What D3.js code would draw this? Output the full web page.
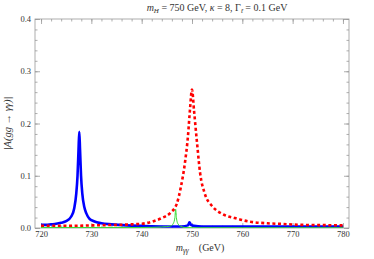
<html>
<head>
<style>
body { margin: 0; background: #fff; }
text { font-family: "Liberation Serif", "DejaVu Serif", serif; }
</style>
</head>
<body>
<script src="https://cdn.jsdelivr.net/npm/d3@7/dist/d3.min.js"></script>
<script>

// blue: solid curve
var blueMass = [720, 721, 722, 723, 724, 725, 726, 726.6, 727.0, 727.25, 727.45, 727.6, 727.75, 727.95, 728.2, 728.6, 729.0, 729.6, 730.5, 732, 734, 737, 740, 745, 748, 749.2, 749.5, 749.8, 750.4, 752, 760, 770, 780];
var blueAmp  = [0.006, 0.006, 0.007, 0.008, 0.010, 0.013, 0.022, 0.038, 0.066, 0.100, 0.150, 0.184, 0.150, 0.100, 0.066, 0.040, 0.028, 0.018, 0.013, 0.009, 0.007, 0.005, 0.004, 0.003, 0.003, 0.005, 0.011, 0.006, 0.004, 0.003, 0.003, 0.003, 0.003];

// red: dashed curve
var redMass = [720, 725, 730, 735, 738, 740, 742, 744, 745.7, 747.0, 747.8, 748.6, 749.2, 749.6, 750.0, 750.4, 751.0, 751.6, 752.5, 754.1, 756.0, 758.5, 761.6, 765, 768, 771.7, 776, 780];
var redAmp  = [0.004, 0.004, 0.005, 0.006, 0.007, 0.008, 0.012, 0.019, 0.029, 0.047, 0.079, 0.125, 0.176, 0.227, 0.265, 0.225, 0.163, 0.106, 0.067, 0.041, 0.027, 0.019, 0.012, 0.009, 0.0077, 0.006, 0.0055, 0.005];

// green: thin curve
var greenMass = [720, 730, 740, 744, 745.8, 746.3, 746.6, 746.75, 746.9, 747.2, 747.8, 748.6, 750, 760, 780];
var greenAmp  = [0.001, 0.001, 0.001, 0.002, 0.004, 0.009, 0.020, 0.036, 0.020, 0.008, 0.003, 0.001, 0.0005, 0.0005, 0.0005];

var xMajor = [720, 730, 740, 750, 760, 770, 780],
    yMajor = [0.0, 0.1, 0.2, 0.3, 0.4];

var width = 374,
    height = 259;

var frameColor = '#999',
    labelColor = '#333';

var svg = d3.select('body').append('svg')
    .attr('width', width)
    .attr('height', height);

var x = d3.scaleLinear().domain([718.8, 781.2]).range([35, 349]);
var y = d3.scaleLinear().domain([0, 0.4]).range([228, 19]);

var xMinor = d3.range(720, 781, 2),
    yMinor = d3.range(0, 0.401, 0.02);

svg.append('clipPath').attr('id', 'clip')
  .append('rect')
    .attr('x', x.range()[0]).attr('y', y.range()[1])
    .attr('width', x.range()[1] - x.range()[0])
    .attr('height', y.range()[0] - y.range()[1]);

// ticks on all four sides, pointing inward
function styleAxis(g) {
  g.select('.domain').remove();
  g.selectAll('line').attr('stroke', frameColor).attr('stroke-width', 0.8);
  g.selectAll('text').attr('fill', labelColor).style('font-size', '8.5px');
}

svg.append('g').attr('transform', 'translate(0,' + y(0) + ')')
    .call(d3.axisBottom(x).tickValues(xMinor).tickSize(-2.5).tickFormat(''))
    .call(styleAxis);
svg.append('g').attr('transform', 'translate(0,' + y(0) + ')')
    .call(d3.axisBottom(x).tickValues(xMajor).tickSize(-5).tickPadding(3).tickFormat(d3.format('d')))
    .call(styleAxis);
svg.append('g').attr('transform', 'translate(0,' + y(0.4) + ')')
    .call(d3.axisTop(x).tickValues(xMinor).tickSize(-2.5).tickFormat(''))
    .call(styleAxis);
svg.append('g').attr('transform', 'translate(0,' + y(0.4) + ')')
    .call(d3.axisTop(x).tickValues(xMajor).tickSize(-5).tickFormat(''))
    .call(styleAxis);

svg.append('g').attr('transform', 'translate(' + x.range()[0] + ',0)')
    .call(d3.axisLeft(y).tickValues(yMinor).tickSize(-2.5).tickFormat(''))
    .call(styleAxis);
svg.append('g').attr('transform', 'translate(' + x.range()[0] + ',0)')
    .call(d3.axisLeft(y).tickValues(yMajor).tickSize(-5).tickPadding(4).tickFormat(d3.format('.1f')))
    .call(styleAxis);
svg.append('g').attr('transform', 'translate(' + x.range()[1] + ',0)')
    .call(d3.axisRight(y).tickValues(yMinor).tickSize(-2.5).tickFormat(''))
    .call(styleAxis);
svg.append('g').attr('transform', 'translate(' + x.range()[1] + ',0)')
    .call(d3.axisRight(y).tickValues(yMajor).tickSize(-5).tickFormat(''))
    .call(styleAxis);

svg.append('rect')
    .attr('x', x.range()[0]).attr('y', y.range()[1])
    .attr('width', x.range()[1] - x.range()[0])
    .attr('height', y.range()[0] - y.range()[1])
    .attr('fill', 'none')
    .attr('stroke', frameColor)
    .attr('stroke-width', 0.8);

var line = d3.line()
    .x(function(d) { return x(d[0]); })
    .y(function(d) { return y(d[1]); })
    .curve(d3.curveMonotoneX);

var plot = svg.append('g').attr('clip-path', 'url(#clip)');

plot.append('path')
    .datum(d3.zip(blueMass, blueAmp))
    .attr('d', line)
    .attr('fill', 'none')
    .attr('stroke', '#0000ff')
    .attr('stroke-width', 2.6);

plot.append('path')
    .datum(d3.zip(redMass, redAmp))
    .attr('d', line)
    .attr('fill', 'none')
    .attr('stroke', '#ff0000')
    .attr('stroke-width', 2.6)
    .attr('stroke-dasharray', '3,2.6');

plot.append('path')
    .datum(d3.zip(greenMass, greenAmp))
    .attr('d', line)
    .attr('fill', 'none')
    .attr('stroke', '#33dd33')
    .attr('stroke-width', 1);

// title
var title = svg.append('text')
    .attr('x', 217)
    .attr('y', 11)
    .attr('text-anchor', 'middle')
    .attr('fill', labelColor)
    .style('font-size', '10px');
title.append('tspan').style('font-style', 'italic').text('m');
title.append('tspan').attr('dy', 2).style('font-size', '7px').style('font-style', 'italic').text('H');
title.append('tspan').attr('dy', -2).text(' = 750 GeV, ');
title.append('tspan').style('font-style', 'italic').text('κ');
title.append('tspan').text(' = 8, Γ');
title.append('tspan').attr('dy', 2).style('font-size', '7px').style('font-style', 'italic').text('t̃');
title.append('tspan').attr('dy', -2).text(' = 0.1 GeV');

// x label
var xl = svg.append('text')
    .attr('x', 200)
    .attr('y', 251)
    .attr('text-anchor', 'middle')
    .attr('fill', labelColor)
    .style('font-size', '10px');
xl.append('tspan').style('font-style', 'italic').text('m');
xl.append('tspan').attr('dy', 2).style('font-size', '7.5px').style('font-style', 'italic').text('γγ');
xl.append('tspan').attr('dy', -2).text('\u2003(GeV)');

// y label
svg.append('text')
    .attr('transform', 'translate(11,' + y(0.2) + ') rotate(-90)')
    .attr('text-anchor', 'middle')
    .attr('fill', labelColor)
    .style('font-size', '10.5px')
    .style('font-style', 'italic')
    .text('|A(gg → γγ)|');

</script>
</body>
</html>
